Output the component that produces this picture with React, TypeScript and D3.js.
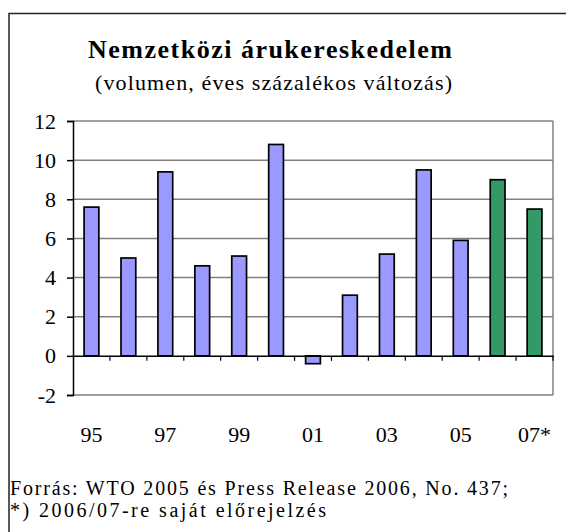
import { useEffect, useRef } from 'react';
import * as d3 from 'd3';

// Chart data
const years = ['95', '96', '97', '98', '99', '00', '01', '02', '03', '04', '05', '06', '07'];
const values = [7.6, 5.0, 9.4, 4.6, 5.1, 10.8, -0.4, 3.1, 5.2, 9.5, 5.9, 9.0, 7.5];
const forecast = [false, false, false, false, false, false, false, false, false, false, false, true, true];
const xTickLabels: Record<string, string> = {
  '95': '95',
  '97': '97',
  '99': '99',
  '01': '01',
  '03': '03',
  '05': '05',
  '07': '07*',
};
const yTicks = [-2, 0, 2, 4, 6, 8, 10, 12];

const title = 'Nemzetközi árukereskedelem';
const subtitle = '(volumen, éves százalékos változás)';
const notes = ['Forrás: WTO 2005 és Press Release 2006, No. 437;', '*) 2006/07-re saját előrejelzés'];
const noteWidths = [498, 316];

const FONT = '"Liberation Serif", "Times New Roman", serif';
const COLORS = { actual: '#9999FF', forecast: '#339966', grid: '#808080', axis: '#000' };

export default function App() {
  const svgRef = useRef<SVGSVGElement>(null);
  const width = 566;
  const height = 532;

  useEffect(() => {
    if (!svgRef.current) return;
    const svg = d3.select(svgRef.current);
    svg.selectAll('*').remove();

    // outer frame (only left and top visible in the crop)
    svg
      .append('path')
      .attr('d', `M9,${height + 5}V13.5H${width + 5}`)
      .attr('fill', 'none')
      .attr('stroke', '#222')
      .attr('stroke-width', 1.5);

    svg
      .append('text')
      .attr('x', 270)
      .attr('y', 58)
      .attr('text-anchor', 'middle')
      .attr('font-family', FONT)
      .attr('font-weight', 'bold')
      .attr('font-size', 26)
      .attr('textLength', 364)
      .attr('lengthAdjust', 'spacing')
      .text(title);

    svg
      .append('text')
      .attr('x', 273.5)
      .attr('y', 90)
      .attr('text-anchor', 'middle')
      .attr('font-family', FONT)
      .attr('font-size', 22)
      .attr('textLength', 357)
      .attr('lengthAdjust', 'spacing')
      .text(subtitle);

    const margin = { top: 121, left: 73, right: 13, bottom: 137 };
    const innerW = width - margin.left - margin.right;
    const innerH = height - margin.top - margin.bottom;

    const g = svg.append('g').attr('transform', `translate(${margin.left},${margin.top})`);

    const x = d3.scaleBand().domain(years).range([0, innerW]).padding(0);
    const y = d3.scaleLinear().domain([-2, 12]).range([innerH, 0]);
    const barW = x.bandwidth() * 0.4;

    // gridlines
    g.selectAll('line.grid')
      .data(yTicks.filter((t) => t !== 0))
      .join('line')
      .attr('class', 'grid')
      .attr('x1', 0)
      .attr('x2', innerW)
      .attr('y1', (d) => y(d))
      .attr('y2', (d) => y(d))
      .attr('stroke', COLORS.grid)
      .attr('stroke-width', 1.5);

    // right border
    g.append('line')
      .attr('x1', innerW)
      .attr('x2', innerW)
      .attr('y1', 0)
      .attr('y2', innerH)
      .attr('stroke', COLORS.grid)
      .attr('stroke-width', 1.5);

    // bars
    g.selectAll('rect.bar')
      .data(years)
      .join('rect')
      .attr('class', 'bar')
      .attr('x', (d) => (x(d) || 0) + (x.bandwidth() - barW) / 2)
      .attr('y', (_, i) => y(Math.max(0, values[i])))
      .attr('width', barW)
      .attr('height', (_, i) => Math.abs(y(values[i]) - y(0)))
      .attr('fill', (_, i) => (forecast[i] ? COLORS.forecast : COLORS.actual))
      .attr('stroke', '#000')
      .attr('stroke-width', 1.7);

    // y axis
    const yAxis = g
      .append('g')
      .call(
        d3
          .axisLeft(y)
          .tickValues(yTicks)
          .tickSize(6)
          .tickPadding(11)
          .tickFormat((d) => String(d))
      );
    yAxis.attr('font-family', FONT).attr('font-size', 22);
    yAxis.select('.domain').attr('stroke', COLORS.axis).attr('stroke-width', 1.5);
    yAxis.selectAll('.tick line').attr('stroke', COLORS.axis).attr('stroke-width', 1.5);
    yAxis.selectAll('.tick text').attr('fill', '#000');

    // zero axis with category ticks
    const zeroAxis = g
      .append('g')
      .attr('transform', `translate(0,${y(0)})`)
      .call(d3.axisBottom(x).tickSize(0).tickFormat(() => ''));
    zeroAxis.select('.domain').attr('stroke', COLORS.axis).attr('stroke-width', 1.5);
    zeroAxis
      .selectAll('line.cat')
      .data(years.slice(1).concat(['end']))
      .join('line')
      .attr('class', 'cat')
      .attr('x1', (_, i) => x.step() * (i + 1))
      .attr('x2', (_, i) => x.step() * (i + 1))
      .attr('y1', 0)
      .attr('y2', 5)
      .attr('stroke', COLORS.axis)
      .attr('stroke-width', 1.2);

    // x labels
    g.selectAll('text.xlab')
      .data(years.filter((d) => xTickLabels[d]))
      .join('text')
      .attr('class', 'xlab')
      .attr('x', (d) => (x(d) || 0) + x.bandwidth() / 2)
      .attr('y', innerH + 47)
      .attr('text-anchor', 'middle')
      .attr('font-family', FONT)
      .attr('font-size', 22)
      .text((d) => xTickLabels[d]);

    // footnotes
    svg
      .selectAll('text.note')
      .data(notes)
      .join('text')
      .attr('class', 'note')
      .attr('x', 10)
      .attr('y', (_, i) => 495 + i * 22)
      .attr('font-family', FONT)
      .attr('font-size', 20)
      .attr('textLength', (_, i) => noteWidths[i])
      .attr('lengthAdjust', 'spacing')
      .text((d) => d);
  }, []);

  return (
    <svg
      ref={svgRef}
      width={width}
      height={height}
      style={{ position: 'absolute', left: 0, top: 0, background: '#fff' }}
    />
  );
}
